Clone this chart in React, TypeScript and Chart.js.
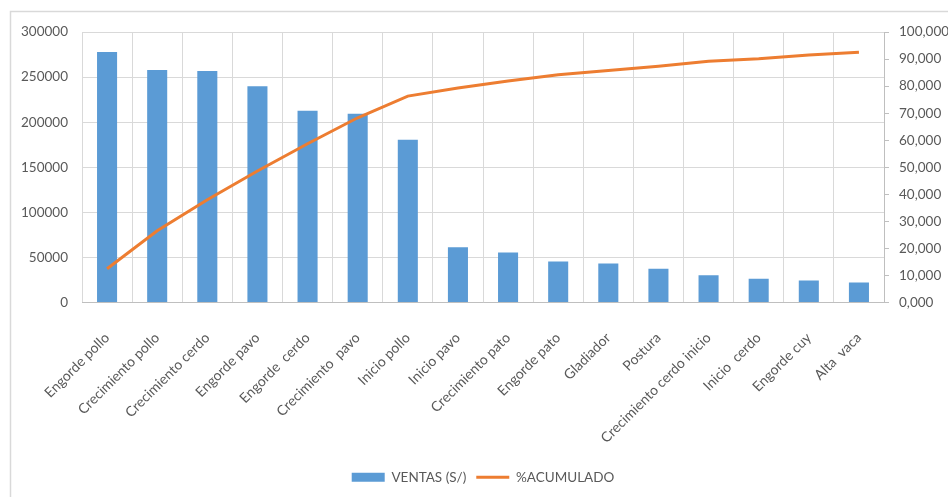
import { useEffect, useRef } from "react";
import { Chart, registerables } from "chart.js";

Chart.register(...registerables);

// Product lines and their sales, sorted for the Pareto view
const CATEGORIES = [
  "Engorde pollo",
  "Crecimiento pollo",
  "Crecimiento cerdo",
  "Engorde pavo",
  "Engorde  cerdo",
  "Crecimiento  pavo",
  "Inicio pollo",
  "Inicio pavo",
  "Crecimiento pato",
  "Engorde pato",
  "Gladiador",
  "Postura",
  "Crecimiento cerdo inicio",
  "Inicio  cerdo",
  "Engorde cuy",
  "Alta  vaca",
];

const VENTAS = [
  277800, 257800, 256700, 239700, 212800, 209400, 180600, 61400, 55500, 45500,
  43300, 37400, 30300, 26300, 24400, 22200,
];

const ACUMULADO = [
  12.5, 26.5, 38.0, 48.6, 58.7, 68.3, 76.3, 79.3, 81.9, 84.2, 85.8, 87.3, 89.2,
  90.1, 91.5, 92.5,
];

// Axis ranges
const VENTAS_MIN = 0;
const VENTAS_MAX = 300000;
const VENTAS_STEP = 50000;
const PCT_MIN = 0;
const PCT_MAX = 100;
const PCT_STEP = 10;

const SERIES_LABELS = ["VENTAS (S/)", "%ACUMULADO"];

const FONT = "Lato, 'Open Sans', sans-serif";
const TEXT = "#595959";
const GRID = "#D9D9D9";
const AXIS = "#BFBFBF";
const BLUE = "#5B9BD5";
const ORANGE = "#ED7D31";

const framePlugin = {
  id: "frame",
  beforeDraw(chart: any) {
    const { ctx, width, height } = chart;
    ctx.save();
    ctx.fillStyle = "#ffffff";
    ctx.fillRect(0, 0, width, height);
    ctx.strokeStyle = GRID;
    ctx.lineWidth = 1.5;
    ctx.beginPath();
    ctx.moveTo(10.5, height);
    ctx.lineTo(10.5, 11.5);
    ctx.lineTo(width, 11.5);
    ctx.stroke();
    ctx.restore();
  },
};

export default function App() {
  const ref = useRef<HTMLCanvasElement>(null);

  useEffect(() => {
    if (!ref.current) return;
    const axisFont = { family: FONT, size: 13.5 };
    const labelFont = { family: FONT, size: 14 };
    const legendFont = { family: FONT, size: 13.5 };
    const chart = new Chart(ref.current, {
      type: "bar",
      data: {
        labels: CATEGORIES,
        datasets: [
          {
            type: "bar",
            label: SERIES_LABELS[0],
            data: VENTAS,
            backgroundColor: BLUE,
            yAxisID: "y",
            order: 1,
            barPercentage: 0.4,
            categoryPercentage: 1,
          },
          {
            type: "line",
            label: SERIES_LABELS[1],
            data: ACUMULADO,
            borderColor: ORANGE,
            backgroundColor: ORANGE,
            borderWidth: 3,
            pointRadius: 0,
            tension: 0,
            yAxisID: "y1",
            order: 0,
          },
        ],
      } as any,
      options: {
        animation: false,
        responsive: false,
        devicePixelRatio: 1,
        layout: { padding: { top: 32, left: 0, right: 0, bottom: 3 } },
        plugins: {
          tooltip: { enabled: false },
          legend: {
            position: "bottom",
            fullSize: false,
            labels: {
              usePointStyle: true,
              pointStyleWidth: 33,
              boxHeight: 9,
              padding: 10,
              color: TEXT,
              font: legendFont,
              generateLabels: () => [
                {
                  text: SERIES_LABELS[0],
                  fillStyle: BLUE,
                  strokeStyle: BLUE,
                  lineWidth: 0,
                  pointStyle: "rect",
                  fontColor: TEXT,
                  hidden: false,
                  datasetIndex: 0,
                },
                {
                  text: SERIES_LABELS[1],
                  fillStyle: ORANGE,
                  strokeStyle: ORANGE,
                  lineWidth: 3,
                  pointStyle: "line",
                  fontColor: TEXT,
                  hidden: false,
                  datasetIndex: 1,
                },
              ],
            },
          },
        },
        scales: {
          x: {
            grid: { color: GRID, offset: true, drawTicks: false },
            border: { color: AXIS },
            ticks: {
              color: TEXT,
              font: labelFont,
              minRotation: 45,
              maxRotation: 45,
              autoSkip: false,
              padding: 27,
            },
            afterFit: (s: any) => {
              s.height = 158;
            },
          },
          y: {
            position: "left",
            min: VENTAS_MIN,
            max: VENTAS_MAX,
            ticks: {
              stepSize: VENTAS_STEP,
              color: TEXT,
              font: axisFont,
              padding: 14,
              callback: (v: any) => String(v),
            },
            grid: { color: GRID, drawTicks: false },
            border: { display: false },
            afterFit: (s: any) => {
              s.width = 82;
            },
          },
          y1: {
            position: "right",
            min: PCT_MIN,
            max: PCT_MAX,
            ticks: {
              stepSize: PCT_STEP,
              color: TEXT,
              font: axisFont,
              padding: 10,
              callback: (v: any) => Number(v).toFixed(3).replace(".", ","),
            },
            grid: {
              drawOnChartArea: false,
              color: AXIS,
              tickLength: 5,
            },
            border: { color: AXIS },
            afterFit: (s: any) => {
              s.width = 64;
            },
          },
        },
      } as any,
      plugins: [framePlugin],
    });
    return () => chart.destroy();
  }, []);

  return (
    <div style={{ position: "absolute", left: 0, top: 0, width: 948, height: 497 }}>
      <canvas ref={ref} width={948} height={497} style={{ display: "block" }} />
    </div>
  );
}
